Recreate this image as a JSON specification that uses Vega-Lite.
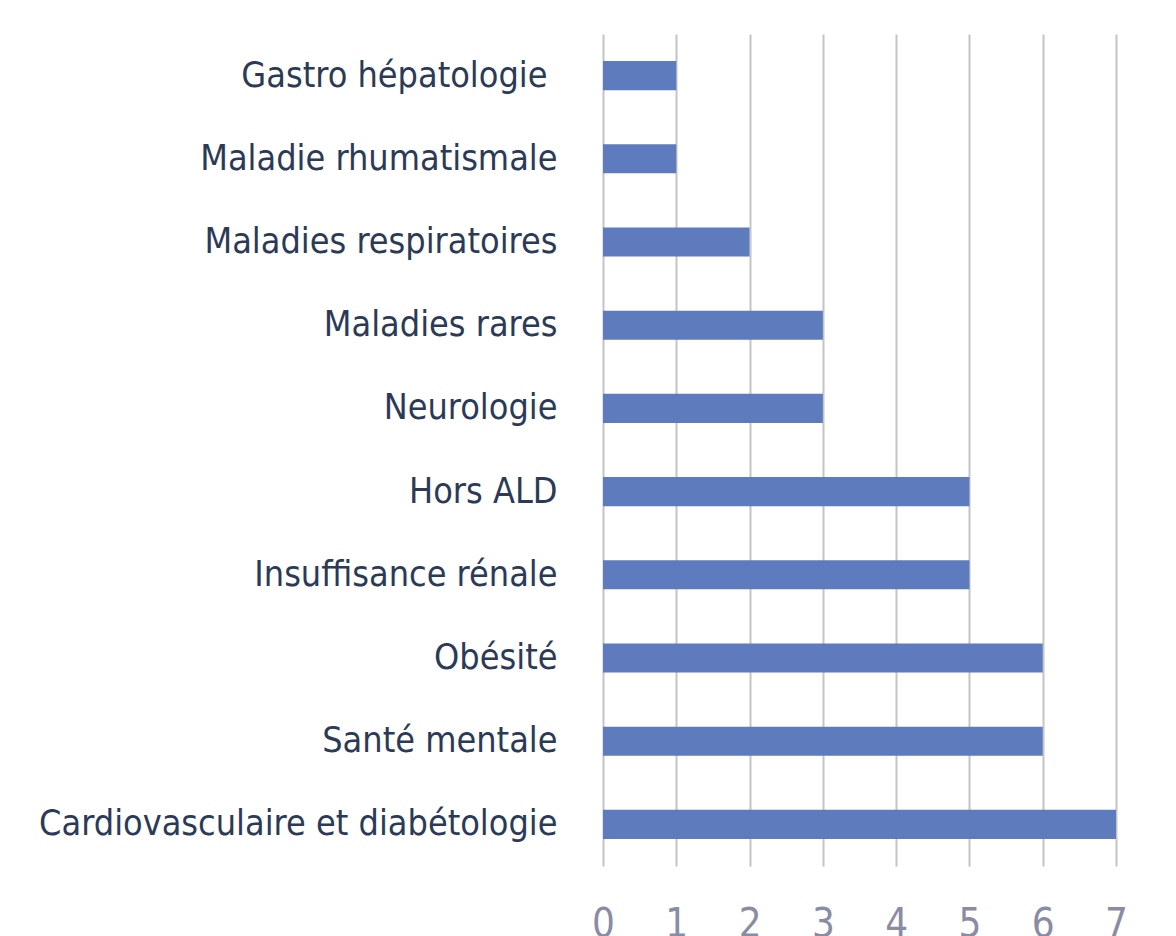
{
  "$schema": "https://vega.github.io/schema/vega-lite/v6.json",
  "autosize": {"type": "none"},
  "padding": {"left": 603, "top": 34, "right": 60, "bottom": 70},
  "width": 513,
  "height": 832,
  "background": "white",
  "data": {"values": [
    {"categorie": "Gastro hépatologie", "n": 1},
    {"categorie": "Maladie rhumatismale", "n": 1},
    {"categorie": "Maladies respiratoires", "n": 2},
    {"categorie": "Maladies rares", "n": 3},
    {"categorie": "Neurologie", "n": 3},
    {"categorie": "Hors ALD", "n": 5},
    {"categorie": "Insuffisance rénale", "n": 5},
    {"categorie": "Obésité", "n": 6},
    {"categorie": "Santé mentale", "n": 6},
    {"categorie": "Cardiovasculaire et diabétologie", "n": 7}
  ]},
  "mark": {"type": "bar", "color": "#5e7bbd"},
  "encoding": {
    "y": {"field": "categorie", "type": "nominal", "sort": null,
      "scale": {"paddingInner": 0.65, "paddingOuter": 0.325},
      "axis": {"title": null, "domain": false, "ticks": false,
        "labelPadding": {"condition": {"test": "datum.value === 'Gastro hépatologie'", "value": 56}, "value": 46},
        "labelFont": "DejaVu Sans Condensed, sans-serif",
        "labelFontSize": 35.7, "labelColor": "#2b3a57", "labelLimit": 0}},
    "x": {"field": "n", "type": "quantitative",
      "scale": {"domain": [0, 7], "nice": false},
      "axis": {"title": null, "domain": false, "ticks": false, "values": [0,1,2,3,4,5,6,7],
        "grid": true, "gridColor": "#c4c4c4", "gridWidth": 2,
        "labelOverlap": false, "labelFlush": false,
        "labelPadding": 38, "labelBaseline": "top",
        "labelFont": "DejaVu Sans Condensed, sans-serif",
        "labelFontSize": 40, "labelColor": "#8a8ca3"}}
  },
  "config": {"view": {"stroke": null}}
}
